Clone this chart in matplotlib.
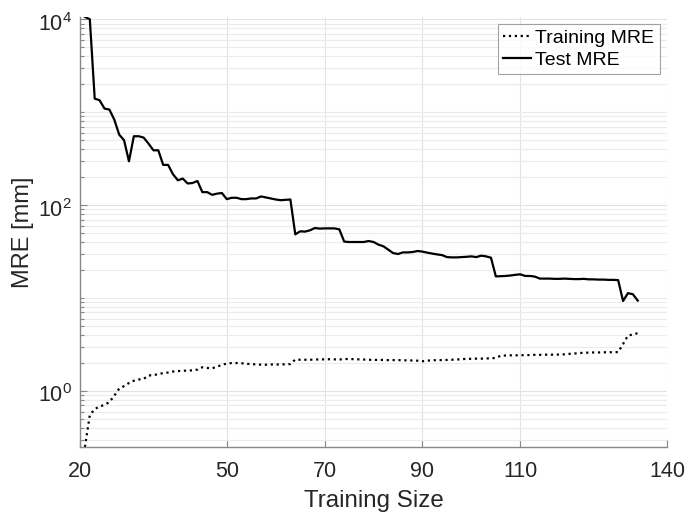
import numpy as np
import matplotlib
matplotlib.use("Agg")
import matplotlib.pyplot as plt
from matplotlib.transforms import ScaledTranslation
from matplotlib.ticker import LogLocator, FixedLocator, NullFormatter, LogFormatterMathtext

plt.rcParams['font.family'] = ['Liberation Sans', 'DejaVu Sans']
plt.rcParams['mathtext.fontset'] = 'custom'
plt.rcParams['mathtext.rm'] = 'Liberation Sans'
plt.rcParams['mathtext.it'] = 'Liberation Sans'

# Training set sizes
training_size = list(range(21, 135))

# Mean radial error on the training set [mm]
training_mre = [
    0.25, 0.55, 0.64, 0.68, 0.71, 0.76, 0.89, 1.06, 1.13, 1.22,
    1.29, 1.33, 1.35, 1.47, 1.48, 1.52, 1.56, 1.58, 1.62, 1.64,
    1.65, 1.66, 1.67, 1.70, 1.80, 1.77, 1.76, 1.82, 1.92, 1.97,
    2.00, 2.00, 1.99, 1.96, 1.95, 1.93, 1.92, 1.92, 1.93, 1.93,
    1.93, 1.94, 1.95, 2.18, 2.17, 2.17, 2.17, 2.18, 2.19, 2.19,
    2.20, 2.19, 2.18, 2.21, 2.21, 2.20, 2.19, 2.18, 2.17, 2.16,
    2.16, 2.16, 2.15, 2.15, 2.15, 2.14, 2.14, 2.13, 2.12, 2.09,
    2.12, 2.14, 2.15, 2.15, 2.16, 2.17, 2.18, 2.20, 2.22, 2.22,
    2.23, 2.23, 2.24, 2.25, 2.27, 2.40, 2.41, 2.42, 2.42, 2.43,
    2.43, 2.44, 2.45, 2.45, 2.46, 2.46, 2.46, 2.47, 2.48, 2.51,
    2.53, 2.56, 2.58, 2.59, 2.60, 2.60, 2.61, 2.61, 2.62, 2.62,
    3.20, 3.95, 4.05, 4.20,
]

# Mean radial error on the test set [mm]
test_mre = [
    10600, 10000, 1400, 1343, 1094, 1067, 832, 574, 499, 296,
    551, 551, 533, 459, 389, 389, 271, 271, 215, 185,
    193, 171, 173, 182, 138, 138, 129, 133, 135, 116,
    120, 120, 116, 116, 118, 118, 124, 121, 118, 115,
    113, 114, 115, 48.5, 52.3, 51.9, 53.6, 56.7, 55.9, 56.2,
    56.2, 56.2, 54.9, 40.5, 40.1, 40.1, 40.1, 40.1, 41.1, 40.1,
    37.6, 36.1, 33.2, 30.5, 29.8, 31.0, 31.0, 31.3, 32.1, 31.6,
    30.8, 30.1, 29.5, 29.0, 27.6, 27.4, 27.4, 27.6, 27.8, 28.1,
    27.6, 28.6, 28.1, 27.2, 17.1, 17.2, 17.3, 17.5, 17.8, 18.0,
    17.3, 17.3, 17.0, 16.2, 16.2, 16.2, 16.1, 16.1, 16.2, 16.1,
    16.0, 16.0, 16.1, 15.9, 15.9, 15.8, 15.8, 15.7, 15.7, 15.6,
    9.3, 11.3, 11.0, 9.4,
]

x_ticks = [20, 50, 70, 90, 110, 140]
y_ticks = [1, 100, 10000]

fig = plt.figure(figsize=(6.87, 5.12), dpi=100)
ax = fig.add_axes([0.1165, 0.127, 0.8545, 0.840])

ax.plot(training_size, training_mre, color='black', linestyle=':', linewidth=1.6,
        label='Training MRE')
ax.plot(training_size, test_mre, color='black', linestyle='-', linewidth=1.6,
        label='Test MRE')

ax.set_yscale('log')
ax.set_xlim(20, 140)
ax.set_ylim(min(training_mre), max(test_mre))

ax.xaxis.set_major_locator(FixedLocator(x_ticks))
ax.yaxis.set_major_locator(FixedLocator(y_ticks))
ax.yaxis.set_major_formatter(LogFormatterMathtext())
ax.yaxis.set_minor_locator(LogLocator(base=10, subs=np.arange(1, 10), numticks=20))
ax.yaxis.set_minor_formatter(NullFormatter())

spine_col = '#888888'
for side in ('top', 'right'):
    ax.spines[side].set_visible(False)
for side in ('left', 'bottom'):
    ax.spines[side].set_color(spine_col)
    ax.spines[side].set_linewidth(1.0)

ax.tick_params(axis='both', which='major', direction='in', length=5, width=0.8,
               color=spine_col, labelcolor='#262626')
ax.tick_params(axis='x', which='major', labelsize=15.5, pad=10)
ax.tick_params(axis='y', which='major', labelsize=15.5, pad=6)
ax.tick_params(axis='y', which='minor', direction='in', length=3, width=0.8,
               color=spine_col)

# shift the power-of-ten labels slightly down so the mantissa sits on the tick
shift = ScaledTranslation(0, -2.5 / 100, fig.dpi_scale_trans)
for tick in ax.yaxis.get_major_ticks():
    tick.label1.set_transform(tick.label1.get_transform() + shift)

ax.grid(True, which='major', axis='x', color='#e3e3e3', linewidth=0.8)
ax.grid(True, which='minor', axis='y', color='#ebebeb', linewidth=0.8)
ax.grid(True, which='major', axis='y', color='#e3e3e3', linewidth=0.8)
ax.set_axisbelow(True)

ax.set_xlabel('Training Size', fontsize=17.4, color='#262626', labelpad=5.5)
ax.set_ylabel('MRE [mm]', fontsize=17, color='#262626', labelpad=2.5)

leg = ax.legend(loc='upper right', fontsize=14, frameon=True, fancybox=False,
                edgecolor='#8c8c8c', handlelength=1.4, handletextpad=0.25,
                borderpad=0.3, labelspacing=0.2, borderaxespad=0.35)
leg.get_frame().set_linewidth(0.8)
for t in leg.get_texts():
    t.set_color('#000000')

fig.savefig('out.png', dpi=100)
